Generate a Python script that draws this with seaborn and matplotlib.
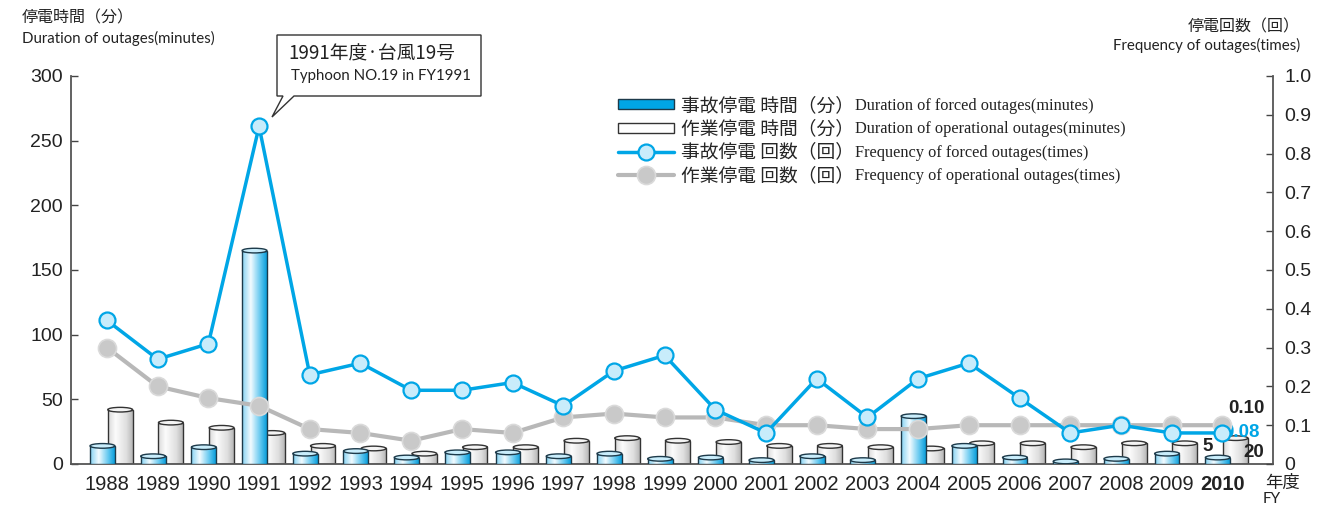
import numpy as np
import pandas as pd
import seaborn as sns
import matplotlib.pyplot as plt
from matplotlib.colors import LinearSegmentedColormap
from matplotlib.patches import Ellipse, Polygon, Rectangle
from matplotlib.lines import Line2D

# data
years = [str(y) for y in range(1988, 2011)]
forced_min = [14, 6, 13, 165, 8, 10, 5, 9, 9, 6, 8, 4, 5, 3, 6, 3, 37, 14, 5, 2, 4, 8, 5]
oper_min = [42, 32, 28, 24, 14, 12, 8, 13, 13, 18, 20, 18, 17, 14, 14, 13, 12, 16, 16, 13, 16, 16, 20]
forced_freq = [0.37, 0.27, 0.31, 0.87, 0.23, 0.26, 0.19, 0.19, 0.21, 0.15, 0.24, 0.28,
               0.14, 0.08, 0.22, 0.12, 0.22, 0.26, 0.17, 0.08, 0.10, 0.08, 0.08]
oper_freq = [0.30, 0.20, 0.17, 0.15, 0.09, 0.08, 0.06, 0.09, 0.08, 0.12, 0.13, 0.12,
             0.12, 0.10, 0.10, 0.09, 0.09, 0.10, 0.10, 0.10, 0.10, 0.10, 0.10]
left_ticks = [0, 50, 100, 150, 200, 250, 300]
right_ticks = [0, 0.1, 0.2, 0.3, 0.4, 0.5, 0.6, 0.7, 0.8, 0.9, 1.0]
right_labels = ['0'] + [f'{v:.1f}' for v in right_ticks[1:]]

CYAN = '#00a6e6'
JP = ['Noto Sans CJK JP', 'DejaVu Sans']
W, H = 1339, 507

sns.set_theme(style='white')
plt.rcParams['font.family'] = ['Liberation Sans', 'Noto Sans CJK JP']

df = pd.DataFrame({'pos': np.arange(len(years)), 'forced_min': forced_min, 'oper_min': oper_min,
                   'forced_freq': forced_freq, 'oper_freq': oper_freq})


def px(x, y):
    return x / W, 1 - y / H


fig = plt.figure(figsize=(W / 100, H / 100), dpi=100)
ax = fig.add_axes([71 / W, 43 / H, (1273 - 71) / W, (464 - 76) / H])

# bars: operational behind, forced in front
sns.barplot(x=df['pos'] + 0.26, y=df['oper_min'], native_scale=True, width=0.49, ax=ax,
            color='white', edgecolor='#333333', linewidth=1, errorbar=None)
n_oper = len(ax.patches)
sns.barplot(x=df['pos'] - 0.09, y=df['forced_min'], native_scale=True, width=0.49, ax=ax,
            color=CYAN, edgecolor='#1d3a4a', linewidth=1, errorbar=None)

cm_forced = LinearSegmentedColormap.from_list('f', [(0, '#86d3f3'), (0.35, '#f2fbff'), (0.75, '#5ec6ef'), (1, '#0a9edb')])
cm_oper = LinearSegmentedColormap.from_list('o', [(0, '#d9d9d9'), (0.3, '#fcfcfc'), (0.75, '#dedede'), (1, '#b8b8b8')])
grad = np.linspace(0, 1, 64).reshape(1, -1)
for i, p in enumerate(ax.patches):
    is_forced = i >= n_oper
    z = 3 if is_forced else 2
    bx, by, bw, bh = p.get_x(), p.get_y(), p.get_width(), p.get_height()
    p.set_zorder(z)
    p.set_facecolor('none')
    im = ax.imshow(grad, cmap=cm_forced if is_forced else cm_oper, extent=[bx, bx + bw, by, by + bh],
                   aspect='auto', origin='lower', zorder=z - 0.01)
    im.set_clip_path(p)
    ax.add_patch(Ellipse((bx + bw / 2, by + bh), bw, 3.6, facecolor='#c9edfb' if is_forced else '#f4f4f4',
                         edgecolor=p.get_edgecolor(), lw=1, zorder=z + 0.01))

ax.set_xlim(-0.71, 23.0)
ax.set_ylim(0, 300)
ax.set_xticks(df['pos'])
ax.set_xticklabels(years)
ax.set_yticks(left_ticks)
ax.set_xlabel('')
ax.set_ylabel('')
ax.tick_params(axis='x', length=0, pad=8, labelsize=14.5, colors='#222222')
ax.tick_params(axis='y', direction='in', length=5, width=1, pad=6, labelsize=14, colors='#444444',
               labelcolor='#222222', left=True)
ax.get_xticklabels()[-1].set_fontweight('bold')
for s in ['top', 'right']:
    ax.spines[s].set_visible(False)
for s in ['left', 'bottom']:
    ax.spines[s].set_color('#555555')
    ax.spines[s].set_linewidth(1.3)

# frequency lines on the right axis
ax2 = ax.twinx()
sns.lineplot(data=df, x='pos', y='oper_freq', ax=ax2, color='#b8b8b8', lw=3, marker='o', markersize=13,
             markerfacecolor='#c9c9c9', markeredgecolor='#dadada', markeredgewidth=1.2, zorder=3, legend=False)
sns.lineplot(data=df, x='pos', y='forced_freq', ax=ax2, color=CYAN, lw=2.5, marker='o', markersize=11.5,
             markerfacecolor='#c8ecfb', markeredgecolor=CYAN, markeredgewidth=1.6, zorder=4, legend=False)
ax2.set_ylim(0, 1.0)
ax2.set_xlim(-0.71, 23.0)
ax2.set_yticks(right_ticks)
ax2.set_yticklabels(right_labels)
ax2.set_ylabel('')
ax2.set_xlabel('')
ax2.tick_params(axis='y', direction='in', length=5, width=1, pad=8, labelsize=14, colors='#444444',
                labelcolor='#222222', right=True)
for s in ['top', 'left', 'bottom']:
    ax2.spines[s].set_visible(False)
ax2.spines['right'].set_color('#555555')
ax2.spines['right'].set_linewidth(1.3)

# value labels for 2010
last = len(years) - 1
ax2.annotate('0.10', xy=(last, oper_freq[-1]), xytext=(4, 12), textcoords='offset points',
             ha='left', va='center', fontsize=13.5, fontweight='bold', color='#222222', zorder=2)
ax2.annotate('0.08', xy=(last, forced_freq[-1]), xytext=(1, 0), textcoords='offset points',
             ha='left', va='center', fontsize=13.5, fontweight='bold', color=CYAN, zorder=2)
ax.annotate('5', xy=(last - 0.09, forced_min[-1]), xytext=(-7, 8), textcoords='offset points',
            ha='center', va='center', fontsize=13.5, fontweight='bold', color='#222222', zorder=5)
ax.annotate('20', xy=(last + 0.26, oper_min[-1]), xytext=(13, -10), textcoords='offset points',
            ha='center', va='center', fontsize=13.5, fontweight='bold', color='#222222', zorder=5)

# axis headers
fig.text(*px(22, 18), '停電時間（分）', family=JP, fontsize=11.5, va='center', ha='left', color='#222222')
fig.text(*px(22, 38), 'Duration of outages(minutes)', family='Lato', fontsize=10.8, va='center', ha='left', color='#222222')
fig.text(*px(1300, 27), '停電回数（回）', family=JP, fontsize=11.5, va='center', ha='right', color='#222222')
fig.text(*px(1300, 45), 'Frequency of outages(times)', family='Lato', fontsize=10.8, va='center', ha='right', color='#222222')
fig.text(*px(1283, 483), '年度', family=JP, fontsize=12.5, va='center', ha='center', color='#222222')
fig.text(*px(1272, 499), 'FY', family='Lato', fontsize=11, va='center', ha='center', color='#222222')

# callout bubble for 1991
bubble = [(277, 35), (481, 35), (481, 96), (294, 96), (272, 117), (283, 96), (277, 96)]
fig.patches.append(Polygon([px(a, b) for a, b in bubble], closed=True, transform=fig.transFigure,
                           facecolor='white', edgecolor='#333333', lw=1, zorder=10))
fig.text(*px(288, 54), '1991年度·台風19号', family=JP, fontsize=13.5, va='center', ha='left', color='#222222', zorder=11)
fig.text(*px(291, 76), 'Typhoon NO.19 in FY1991', family='Lato', fontsize=10.8, va='center', ha='left',
         color='#222222', zorder=11)

# legend: Japanese label in the legend, English part placed beside it afterwards
handles = [Rectangle((0, 0), 1, 1, facecolor=CYAN, edgecolor='#1d3a4a', lw=1),
           Rectangle((0, 0), 1, 1, facecolor='white', edgecolor='#333333', lw=1),
           Line2D([], [], color=CYAN, lw=2.5, marker='o', markersize=11.5, markerfacecolor='#c8ecfb',
                  markeredgecolor=CYAN, markeredgewidth=1.6),
           Line2D([], [], color='#b8b8b8', lw=3, marker='o', markersize=13, markerfacecolor='#c9c9c9',
                  markeredgecolor='#dadada', markeredgewidth=1.2)]
jp_labels = ['事故停電 時間（分）', '作業停電 時間（分）', '事故停電 回数（回）', '作業停電 回数（回）']
en_labels = ['Duration of forced outages(minutes)', 'Duration of operational outages(minutes)',
             'Frequency of forced outages(times)', 'Frequency of operational outages(times)']
leg = ax2.legend(handles, jp_labels, loc='upper left', bbox_to_anchor=px(618, 95),
                 bbox_transform=fig.transFigure, frameon=False, prop={'family': JP, 'size': 13.5},
                 handlelength=3.0, handleheight=0.45, handletextpad=0.35, labelspacing=0.12, borderpad=0,
                 borderaxespad=0)

fig.canvas.draw()
renderer = fig.canvas.get_renderer()
for t, en in zip(leg.get_texts(), en_labels):
    bb = t.get_window_extent(renderer)
    fig.text((bb.x1 + 1) / W, (bb.y0 + bb.y1) / 2 / H - 0.5 / H, en, ha='left', va='center',
             family='Liberation Serif', fontsize=11.8, color='#222222')

fig.savefig('out.png', dpi=100)
